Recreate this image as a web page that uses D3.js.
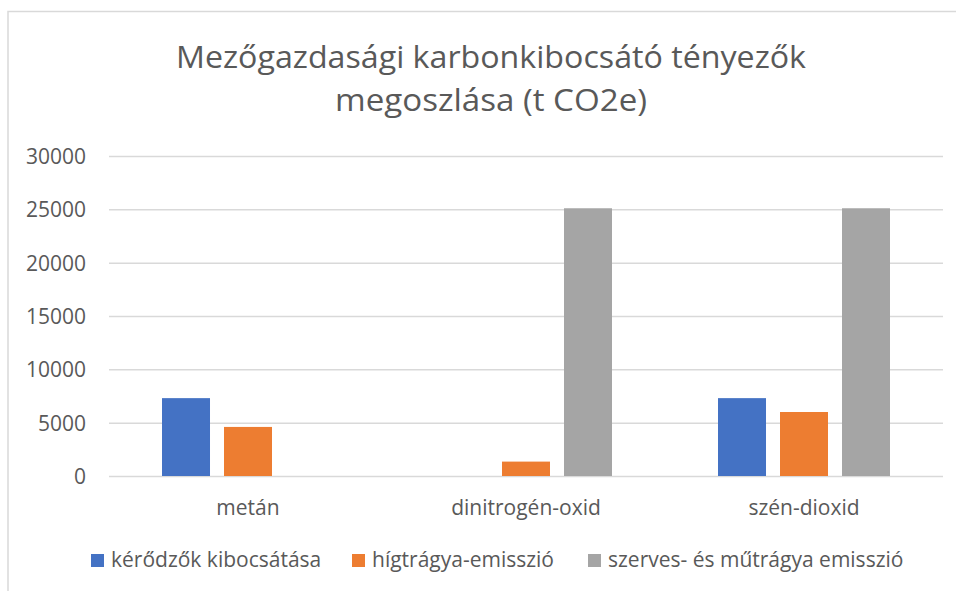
<!DOCTYPE html>
<html>
<head>
<meta charset="utf-8">
<script src="https://cdn.jsdelivr.net/npm/d3@7"></script>
<style>
  html, body { margin: 0; padding: 0; background: #fff; }
  svg { display: block; font-family: "Open Sans", sans-serif; }
</style>
</head>
<body>
<svg id="chart" width="956" height="591"></svg>
<script>
const titleLines = ["Mezőgazdasági karbonkibocsátó tényezők", "megoszlása (t CO2e)"];
const categories = ["metán", "dinitrogén-oxid", "szén-dioxid"];
const seriesNames = ["kérődzők kibocsátása", "hígtrágya-emisszió", "szerves- és műtrágya emisszió"];
const kerodzok = [7300, 0, 7300];
const higtragya = [4600, 1350, 6000];
const szerves = [0, 25100, 25100];
const yTicks = [0, 5000, 10000, 15000, 20000, 25000, 30000];
const colors = ["#4472c4", "#ed7d31", "#a5a5a5"];

const seriesValues = [kerodzok, higtragya, szerves];
const textColor = "#595959";
const gridColor = "#d9d9d9";

const svg = d3.select("#chart");

// chart border
svg.append("rect")
  .attr("x", 8).attr("y", 11.5)
  .attr("width", 1000).attr("height", 600)
  .attr("fill", "none").attr("stroke", gridColor).attr("stroke-width", 1.5);

const plot = { left: 109, right: 943, top: 156, bottom: 476 };

const y = d3.scaleLinear().domain([0, 30000]).range([plot.bottom, plot.top]);
const x0 = d3.scaleBand().domain(categories).range([plot.left, plot.right]).padding(0);
const x1 = d3.scaleBand().domain(seriesNames).range([0, x0.bandwidth()])
  .paddingInner(14 / 62).paddingOuter(0.855);

// title
const title = svg.append("g");
const titleWidths = [630, 312];
const titleBaselines = [68, 111];
titleLines.forEach((t, i) => {
  title.append("text")
    .attr("x", 491).attr("y", titleBaselines[i])
    .attr("text-anchor", "middle")
    .attr("font-size", 31)
    .attr("fill", textColor)
    .attr("textLength", titleWidths[i])
    .attr("lengthAdjust", "spacingAndGlyphs")
    .text(t);
});

// y axis with gridlines
const yAxis = d3.axisLeft(y)
  .tickValues(yTicks)
  .tickFormat(d3.format("d"))
  .tickSize(-(plot.right - plot.left))
  .tickPadding(23);

const yg = svg.append("g")
  .attr("transform", `translate(${plot.left},0)`)
  .call(yAxis);
yg.select(".domain").remove();
yg.selectAll(".tick line").attr("stroke", gridColor).attr("stroke-width", 1.5);
yg.selectAll(".tick text")
  .attr("fill", textColor)
  .attr("font-size", 21)
  .attr("font-family", "Open Sans, sans-serif")
  .attr("dy", "0.36em");

// bars
const groups = svg.append("g").selectAll("g")
  .data(categories)
  .join("g")
  .attr("transform", d => `translate(${x0(d)},0)`);

groups.selectAll("rect")
  .data((c, ci) => seriesNames.map((s, si) => ({ s, si, v: seriesValues[si][ci] })).filter(d => d.v > 0))
  .join("rect")
  .attr("x", d => x1(d.s))
  .attr("width", x1.bandwidth())
  .attr("y", d => y(d.v))
  .attr("height", d => y(0) - y(d.v))
  .attr("fill", d => colors[d.si]);

// category labels
const xAxis = d3.axisBottom(x0).tickSize(0).tickPadding(0);
const xg = svg.append("g")
  .attr("transform", `translate(0,${plot.bottom})`)
  .call(xAxis);
xg.select(".domain").remove();
xg.selectAll(".tick text")
  .attr("fill", textColor)
  .attr("font-size", 21)
  .attr("font-family", "Open Sans, sans-serif")
  .attr("y", 39)
  .attr("dy", 0);

// legend
const legendItems = [
  { sq: 91, tx: 111 },
  { sq: 352, tx: 372 },
  { sq: 588, tx: 608 }
];
const legend = svg.append("g");
seriesNames.forEach((s, i) => {
  legend.append("rect")
    .attr("x", legendItems[i].sq).attr("y", 554)
    .attr("width", 13).attr("height", 13)
    .attr("fill", colors[i]);
  legend.append("text")
    .attr("x", legendItems[i].tx).attr("y", 567)
    .attr("font-size", 21)
    .attr("fill", textColor)
    .text(s);
});
</script>
</body>
</html>
